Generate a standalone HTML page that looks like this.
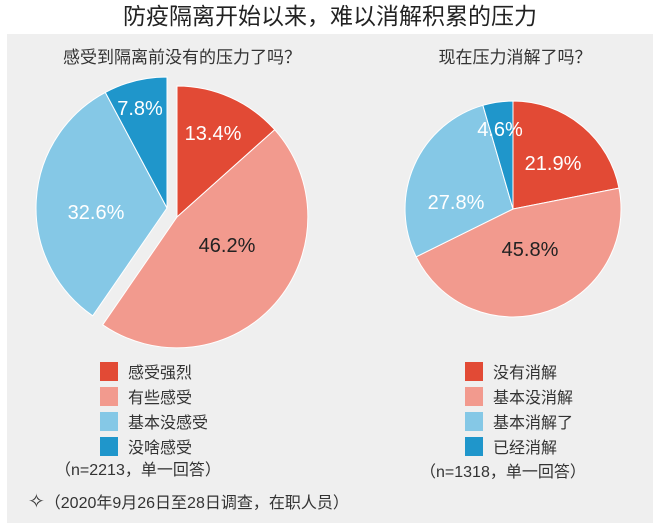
<!DOCTYPE html>
<html><head><meta charset="utf-8"><style>
body{margin:0;background:#fff;}
svg{display:block;font-family:"Liberation Sans","Noto Sans CJK SC",sans-serif;}
</style></head><body>
<svg width="660" height="523" viewBox="0 0 660 523">
<rect x="0" y="0" width="660" height="523" fill="#fff"/>
<rect x="7" y="34" width="646" height="489" fill="#efefef"/>
<text x="330" y="24" font-size="23" text-anchor="middle" fill="#222">防疫隔离开始以来，难以消解积累的压力</text>
<text x="182" y="63" font-size="17" text-anchor="middle" fill="#333">感受到隔离前没有的压力了吗？</text>
<text x="515" y="63" font-size="17" text-anchor="middle" fill="#333">现在压力消解了吗？</text>
<g stroke="#fff" stroke-width="1">
<path d="M177,217 L177,86 A131,131 0 0 1 274.7,129.7 Z" fill="#e24a35"/>
<path d="M177,217 L274.7,129.7 A131,131 0 0 1 102.7,324.8 Z" fill="#f29a8e"/>
<path d="M167,208 L92.7,315.8 A131,131 0 0 1 105.3,92.4 Z" fill="#85c8e6"/>
<path d="M167,208 L105.3,92.4 A131,131 0 0 1 167,77 Z" fill="#1f96cb"/>
<path d="M513,209 L513,101 A108,108 0 0 1 619,188.1 Z" fill="#e24a35"/>
<path d="M513,209 L619,188.1 A108,108 0 0 1 416.2,256.8 Z" fill="#f29a8e"/>
<path d="M513,209 L416.2,256.8 A108,108 0 0 1 482.9,105.3 Z" fill="#85c8e6"/>
<path d="M513,209 L482.9,105.3 A108,108 0 0 1 513,101 Z" fill="#1f96cb"/>
</g>
<g font-size="20" text-anchor="middle">
<text x="213" y="140" fill="#fff">13.4%</text>
<text x="227" y="252" fill="#222">46.2%</text>
<text x="96" y="219" fill="#fff">32.6%</text>
<text x="140" y="115" fill="#fff">7.8%</text>
<text x="553" y="170" fill="#fff">21.9%</text>
<text x="530" y="256" fill="#222">45.8%</text>
<text x="456" y="209" fill="#fff">27.8%</text>
<text x="500" y="136" fill="#fff">4.6%</text>
</g>
<g font-size="16" fill="#333">
<rect x="100" y="362" width="18" height="19" fill="#e24a35"/><text x="128" y="378">感受强烈</text>
<rect x="100" y="387" width="18" height="19" fill="#f29a8e"/><text x="128" y="403">有些感受</text>
<rect x="100" y="412" width="18" height="19" fill="#85c8e6"/><text x="128" y="428">基本没感受</text>
<rect x="100" y="437" width="18" height="19" fill="#1f96cb"/><text x="128" y="453">没啥感受</text>
<text x="55" y="475">（n=2213，单一回答）</text>
<rect x="465" y="362" width="18" height="19" fill="#e24a35"/><text x="493" y="378">没有消解</text>
<rect x="465" y="387" width="18" height="19" fill="#f29a8e"/><text x="493" y="403">基本没消解</text>
<rect x="465" y="412" width="18" height="19" fill="#85c8e6"/><text x="493" y="428">基本消解了</text>
<rect x="465" y="437" width="18" height="19" fill="#1f96cb"/><text x="493" y="453">已经消解</text>
<text x="420" y="477">（n=1318，单一回答）</text>
<text x="28" y="508"><tspan font-size="20">✧</tspan>（2020年9月26日至28日调查，在职人员）</text>
</g>
</svg>
</body></html>
